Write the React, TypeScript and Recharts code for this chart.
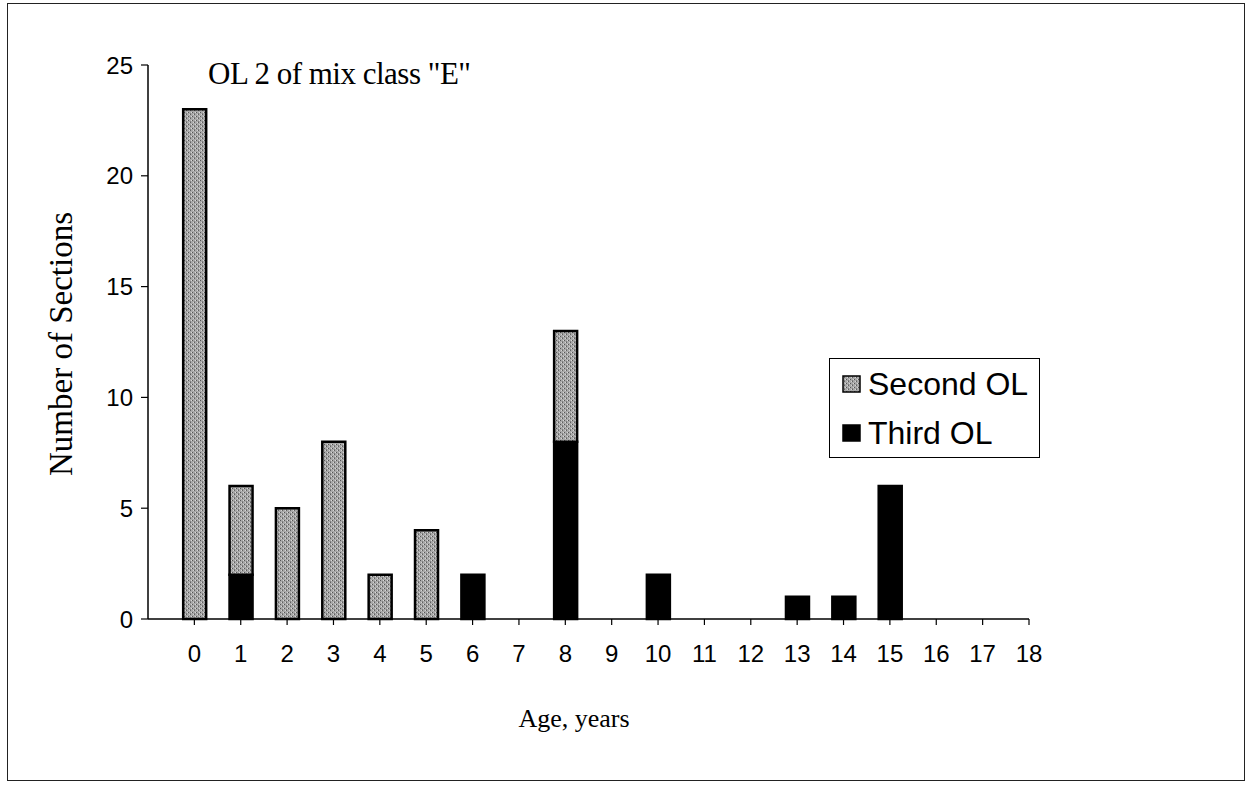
import React from 'react';
import { BarChart, Bar, XAxis, YAxis, Legend } from 'recharts';

const ages = [0, 1, 2, 3, 4, 5, 6, 7, 8, 9, 10, 11, 12, 13, 14, 15, 16, 17, 18];
const secondOL = [23, 4, 5, 8, 2, 4, 0, 0, 5, 0, 0, 0, 0, 0, 0, 0, 0, 0, 0];
const thirdOL = [0, 2, 0, 0, 0, 0, 2, 0, 8, 0, 2, 0, 0, 1, 1, 6, 0, 0, 0];
const xTicks = ages;
const yTicks = [0, 5, 10, 15, 20, 25];
const legendOrder = ['second', 'third'];

const data = ages.map((a, i) => ({ age: a, second: secondOL[i], third: thirdOL[i] }));

const SERIF = '"Liberation Serif", "Times New Roman", serif';
const SANS = '"Liberation Sans", Arial, sans-serif';

const fills: Record<string, string> = {
  second: 'url(#stipple)',
  third: '#000',
};

const renderLegend = (props: any) => {
  const items = [...(props.payload || [])].sort(
    (a: any, b: any) => legendOrder.indexOf(a.dataKey) - legendOrder.indexOf(b.dataKey)
  );
  return (
    <div
      style={{
        width: 211,
        height: 100,
        border: '1.5px solid #000',
        boxSizing: 'border-box',
        paddingTop: 5,
        paddingLeft: 12,
        background: '#fff',
      }}
    >
      {items.map((it: any) => (
        <div key={it.dataKey} style={{ display: 'flex', alignItems: 'center', height: 40, marginBottom: 9 }}>
          <svg width={20} height={18} style={{ marginRight: 6 }}>
            <rect x={1} y={1} width={17} height={16} fill={fills[it.dataKey]} stroke="#000" strokeWidth={1.5} />
          </svg>
          <span style={{ fontFamily: SANS, fontSize: 32, color: '#000', lineHeight: '40px', whiteSpace: 'nowrap' }}>
            {it.value}
          </span>
        </div>
      ))}
    </div>
  );
};

export default function App() {
  return (
    <div style={{ position: 'absolute', left: 0, top: 0, width: 1256, height: 788, background: '#fff' }}>
      <div
        style={{
          position: 'absolute',
          left: 7,
          top: 3,
          width: 1238,
          height: 778,
          border: '1.5px solid #222',
          boxSizing: 'border-box',
        }}
      />
      <div
        style={{
          position: 'absolute',
          left: 208,
          top: 56,
          fontFamily: SERIF,
          fontSize: 31,
          letterSpacing: -0.5,
          color: '#000',
          whiteSpace: 'nowrap',
          lineHeight: '36px',
        }}
      >
        OL 2 of mix class "E"
      </div>
      <div style={{ position: 'absolute', left: 0, top: 0 }}>
        <BarChart
          width={1256}
          height={788}
          data={data}
          margin={{ top: 65, right: 227, bottom: 129, left: 88 }}
        >
          <defs>
            <pattern id="stipple" width={4} height={4} patternUnits="userSpaceOnUse">
              <rect x={0} y={0} width={4} height={4} fill="#a8a8a8" />
              <rect x={0} y={0} width={1} height={1} fill="#555" />
              <rect x={2} y={2} width={1} height={1} fill="#606060" />
              <rect x={3} y={0} width={1} height={1} fill="#d8d8d8" />
              <rect x={1} y={2} width={1} height={1} fill="#d4d4d4" />
              <rect x={2} y={1} width={1} height={1} fill="#808080" />
            </pattern>
          </defs>
          <XAxis
            dataKey="age"
            type="number"
            domain={[-1, 18]}
            ticks={xTicks}
            interval={0}
            allowDecimals={false}
            height={40}
            axisLine={{ stroke: '#000', strokeWidth: 1.5 }}
            tickLine={{ stroke: '#000', strokeWidth: 1.2 }}
            tickSize={6}
            tickMargin={20}
            tick={{ fontFamily: SANS, fontSize: 24, fill: '#000' }}
            label={{
              content: () => (
                <text x={574} y={727} textAnchor="middle" fontFamily={SERIF} fontSize={26} fill="#000">
                  Age, years
                </text>
              ),
            }}
          />
          <YAxis
            type="number"
            domain={[0, 25]}
            ticks={yTicks}
            interval={0}
            width={60}
            axisLine={{ stroke: '#000', strokeWidth: 1.5 }}
            tickLine={{ stroke: '#000', strokeWidth: 1.2 }}
            tickSize={7}
            tickMargin={8}
            tick={{ fontFamily: SANS, fontSize: 24, fill: '#000' }}
            label={{
              content: () => (
                <text
                  x={72}
                  y={344}
                  textAnchor="middle"
                  transform="rotate(-90 72 344)"
                  fontFamily={SERIF}
                  fontSize={33}
                  fill="#000"
                >
                  Number of Sections
                </text>
              ),
            }}
          />
          <Legend
            layout="vertical"
            align="center"
            verticalAlign="middle"
            content={renderLegend}
            wrapperStyle={{ position: 'absolute', left: 829, top: 358, width: 211, height: 100 }}
          />
          <Bar
            dataKey="third"
            name="Third OL"
            stackId="a"
            fill="#000"
            stroke="#000"
            strokeWidth={2.5}
            barSize={23}
            isAnimationActive={false}
          />
          <Bar
            dataKey="second"
            name="Second OL"
            stackId="a"
            fill="url(#stipple)"
            stroke="#000"
            strokeWidth={2.5}
            barSize={23}
            isAnimationActive={false}
          />
        </BarChart>
      </div>
    </div>
  );
}
